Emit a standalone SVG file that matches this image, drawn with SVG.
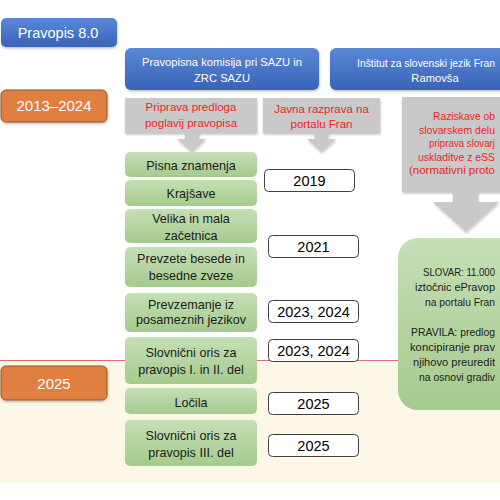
<svg xmlns="http://www.w3.org/2000/svg" width="500" height="500" viewBox="0 0 500 500">
<defs>
<linearGradient id="gBlue" x1="0" y1="0" x2="0" y2="1"><stop offset="0" stop-color="#5a88d8"/><stop offset="1" stop-color="#3963b6"/></linearGradient>
<linearGradient id="gGreen" x1="0" y1="0" x2="0" y2="1"><stop offset="0" stop-color="#c6dfb6"/><stop offset="1" stop-color="#a5ca8d"/></linearGradient>
<filter id="sh" x="-10%" y="-10%" width="120%" height="140%"><feDropShadow dx="0.5" dy="1.5" stdDeviation="1.2" flood-color="#000" flood-opacity="0.25"/></filter>
<style>
text{font-family:"Liberation Sans",Arial,sans-serif}
.blue{fill:url(#gBlue);filter:url(#sh)}
.orange{fill:#df7f3f;stroke:#9a5526;stroke-width:1;filter:url(#sh)}
.gray{fill:#c9c9c9;filter:url(#sh)}
.green{fill:url(#gGreen)}
.year{fill:#fff;stroke:#404040;stroke-width:1}
.wt{fill:#fff;text-anchor:middle}
.rt{fill:#ee2424;font-size:11.5px}
.gt{fill:#1b1b1b;font-size:12.6px;text-anchor:middle}
.bt{fill:#1b1b1b;font-size:11.5px}
.yt{fill:#000;font-size:14.5px;text-anchor:middle}
</style>
</defs>
<rect x="0" y="0" width="500" height="500" fill="#fff"/>
<rect x="0" y="361" width="500" height="122" fill="#fdf7e7"/>
<line x1="0" y1="360.5" x2="500" y2="360.5" stroke="#e07070" stroke-width="1.2"/>

<g id="pravopis">
<rect class="blue" x="1" y="18" width="116" height="29" rx="5"/>
<text class="wt" x="58" y="37.5" font-size="14.5">Pravopis 8.0</text>
</g>
<g id="y2013">
<rect class="orange" x="1" y="90" width="106" height="32" rx="5"/>
<text class="wt" x="54" y="111" font-size="15">2013–2024</text>
</g>
<g id="y2025">
<rect class="orange" x="1" y="366" width="106" height="34" rx="5"/>
<text class="wt" x="54" y="388.5" font-size="15">2025</text>
</g>

<g id="komisija">
<rect class="blue" x="125" y="48" width="194" height="42" rx="6"/>
<text class="wt" font-size="11.2"><tspan x="222" y="66">Pravopisna komisija pri SAZU in</tspan><tspan x="222" y="82">ZRC SAZU</tspan></text>
</g>
<g id="institut">
<rect class="blue" x="330" y="48" width="220" height="42" rx="6"/>
<text fill="#fff" font-size="11.2" x="357" y="67" textLength="138" lengthAdjust="spacingAndGlyphs">Inštitut za slovenski jezik Fran</text>
<text class="wt" font-size="11.2" x="435" y="82">Ramovša</text>
</g>

<g id="priprava">
<rect class="gray" x="125" y="98" width="132" height="35"/>
<text class="rt" text-anchor="middle"><tspan x="191" y="111">Priprava predloga</tspan><tspan x="191" y="127">poglavij pravopisa</tspan></text>
</g>
<g id="javna">
<rect class="gray" x="263" y="98" width="117" height="35"/>
<text class="rt" text-anchor="middle"><tspan x="321.5" y="113">Javna razprava na</tspan><tspan x="321.5" y="128">portalu Fran</tspan></text>
</g>
<g id="raziskave">
<rect class="gray" x="402" y="97" width="140" height="95"/>
<text class="rt" x="433" y="120" textLength="62" lengthAdjust="spacingAndGlyphs">Raziskave ob</text>
<text class="rt" x="419" y="133.5" textLength="76" lengthAdjust="spacingAndGlyphs">slovarskem delu</text>
<text class="rt" x="429" y="147" textLength="66" lengthAdjust="spacingAndGlyphs">priprava slovarj</text>
<text class="rt" x="418" y="160.5" textLength="77" lengthAdjust="spacingAndGlyphs">uskladitve z eSS</text>
<text class="rt" x="409" y="174" textLength="86" lengthAdjust="spacingAndGlyphs">(normativni proto</text>
</g>

<g id="connectors">
<path class="gray" d="M185 132 H199 V139 H206 L192 152 L177 139 H185 Z"/>
<path class="gray" d="M314.5 132 H328.5 V139 H336 L321.5 152 L307 139 H314.5 Z"/>
<path class="gray" d="M453 191 H478 V202 H499 L466 232 L433 202 H453 Z"/>
</g>

<g id="slovar">
<rect class="green" x="398" y="238" width="150" height="172" rx="20"/>
<text class="bt" x="423" y="276" textLength="72" lengthAdjust="spacingAndGlyphs">SLOVAR: 11.000</text>
<text class="bt" x="415" y="291" textLength="80" lengthAdjust="spacingAndGlyphs">iztočnic ePravop</text>
<text class="bt" x="425" y="306" textLength="70" lengthAdjust="spacingAndGlyphs">na portalu Fran</text>
<text class="bt" x="411" y="336" textLength="84" lengthAdjust="spacingAndGlyphs">PRAVILA: predlog</text>
<text class="bt" x="410" y="351" textLength="85" lengthAdjust="spacingAndGlyphs">koncipiranje prav</text>
<text class="bt" x="413" y="366" textLength="82" lengthAdjust="spacingAndGlyphs">njihovo preuredit</text>
<text class="bt" x="419" y="381" textLength="76" lengthAdjust="spacingAndGlyphs">na osnovi gradiv</text>
</g>

<g id="pisna"><rect class="green" x="125" y="152" width="132" height="25" rx="5"/><text class="gt" x="191" y="169.5">Pisna znamenja</text></g>
<g id="krajsave"><rect class="green" x="125" y="180" width="132" height="26" rx="5"/><text class="gt" x="191" y="197.5">Krajšave</text></g>
<g id="velika"><rect class="green" x="125" y="209" width="132" height="34" rx="5"/><text class="gt"><tspan x="191" y="222.5">Velika in mala</tspan><tspan x="191" y="239.5">začetnica</tspan></text></g>
<g id="prevzete"><rect class="green" x="125" y="247" width="132" height="40" rx="5"/><text class="gt"><tspan x="191" y="262.5">Prevzete besede in</tspan><tspan x="191" y="279.5">besedne zveze</tspan></text></g>
<g id="prevzemanje"><rect class="green" x="125" y="293" width="132" height="39" rx="5"/><text class="gt"><tspan x="191" y="308.5">Prevzemanje iz</tspan><tspan x="191" y="324">posameznih jezikov</tspan></text></g>
<g id="oris12"><rect class="green" x="125" y="337" width="132" height="47" rx="5"/><text class="gt"><tspan x="191" y="356.5">Slovnični oris za</tspan><tspan x="191" y="373.5">pravopis I. in II. del</tspan></text></g>
<g id="locila"><rect class="green" x="125" y="388" width="132" height="26" rx="5"/><text class="gt" x="191" y="406.5">Ločila</text></g>
<g id="oris3"><rect class="green" x="125" y="420" width="132" height="46" rx="5"/><text class="gt"><tspan x="191" y="439.5">Slovnični oris za</tspan><tspan x="191" y="456.5">pravopis III. del</tspan></text></g>

<g id="l2019"><rect class="year" x="264.5" y="169.5" width="90" height="22" rx="4"/><text class="yt" x="309.5" y="185.5">2019</text></g>
<g id="l2021"><rect class="year" x="268.5" y="235.5" width="90" height="22" rx="4"/><text class="yt" x="313.5" y="251.5">2021</text></g>
<g id="l2023a"><rect class="year" x="268.5" y="300.5" width="90" height="22" rx="4"/><text class="yt" x="313.5" y="316.5">2023, 2024</text></g>
<g id="l2023b"><rect class="year" x="268.5" y="339.5" width="90" height="22" rx="4"/><text class="yt" x="313.5" y="355.5">2023, 2024</text></g>
<g id="l2025a"><rect class="year" x="268.5" y="392.5" width="90" height="22" rx="4"/><text class="yt" x="313.5" y="408.5">2025</text></g>
<g id="l2025b"><rect class="year" x="268.5" y="434.5" width="90" height="22" rx="4"/><text class="yt" x="313.5" y="450.5">2025</text></g>
</svg>
